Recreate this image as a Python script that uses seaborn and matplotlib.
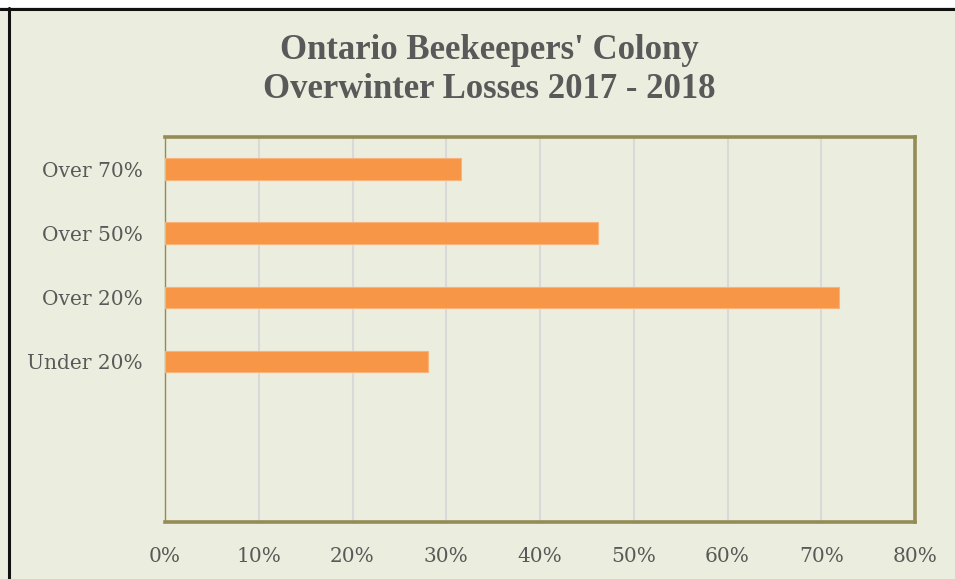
import matplotlib
matplotlib.use("Agg")
import matplotlib.pyplot as plt
import seaborn as sns
import pandas as pd
from matplotlib.patches import Rectangle
from matplotlib.lines import Line2D

categories = ["Over 70%", "Over 50%", "Over 20%", "Under 20%"]
values = [31.6, 46.2, 71.9, 28.0]
xticks = [0, 10, 20, 30, 40, 50, 60, 70, 80]
xtick_labels = ["0%", "10%", "20%", "30%", "40%", "50%", "60%", "70%", "80%"]
title = "Ontario Beekeepers' Colony\nOverwinter Losses 2017 - 2018"

bg = "#EBEEDE"
olive = "#958B55"
text_c = "#595959"
bar_c = "#F79646"

sns.set_theme(style="white")
plt.rcParams["font.family"] = ["Liberation Serif", "DejaVu Serif"]

df = pd.DataFrame({"cat": categories, "val": values})

W, H = 955, 579
fig = plt.figure(figsize=(W / 100, H / 100), dpi=100, facecolor=bg)
ax = fig.add_axes([165 / W, 1 - 522 / H, (915 - 165) / W, (522 - 137) / H])
ax.set_facecolor(bg)

sns.barplot(data=df, y="cat", x="val", orient="h", color=bar_c, width=0.34,
            saturation=1, edgecolor="#F9B37A", linewidth=0.8, ax=ax, zorder=3)

ax.set_xlim(0, 80)
ax.set_ylim(5.5, -0.5)
ax.set_xticks(xticks)
ax.set_xticklabels(xtick_labels)
ax.set_xlabel("")
ax.set_ylabel("")
ax.grid(axis="x", color="#D9D9D9", linewidth=1.5, zorder=0)
ax.grid(axis="y", visible=False)
ax.tick_params(axis="both", length=0, labelsize=14.5, colors=text_c)
ax.tick_params(axis="y", pad=16)
ax.tick_params(axis="x", pad=18)
for lab in ax.get_xticklabels() + ax.get_yticklabels():
    lab.set_family(["DejaVu Serif"])

for side in ["top", "right", "bottom"]:
    ax.spines[side].set_color(olive)
    ax.spines[side].set_linewidth(2.6)
ax.spines["left"].set_color(olive)
ax.spines["left"].set_linewidth(1.0)

fig.text(489 / W, 1 - 70 / H, title, ha="center", va="center",
         fontsize=25, fontweight="bold", color=text_c, linespacing=1.22)

# outer frame (screenshot border)
fig.patches.append(Rectangle((0, 1 - 7 / H), 1, 7 / H, transform=fig.transFigure,
                             facecolor="white", edgecolor="none", zorder=0))
fig.lines.append(Line2D([0, 1], [1 - 8.5 / H, 1 - 8.5 / H], transform=fig.transFigure,
                        color="#111111", linewidth=2.2))
fig.lines.append(Line2D([9 / W, 9 / W], [0, 1 - 8 / H], transform=fig.transFigure,
                        color="#111111", linewidth=2.2))

fig.savefig("out.png", dpi=100, facecolor=bg)
